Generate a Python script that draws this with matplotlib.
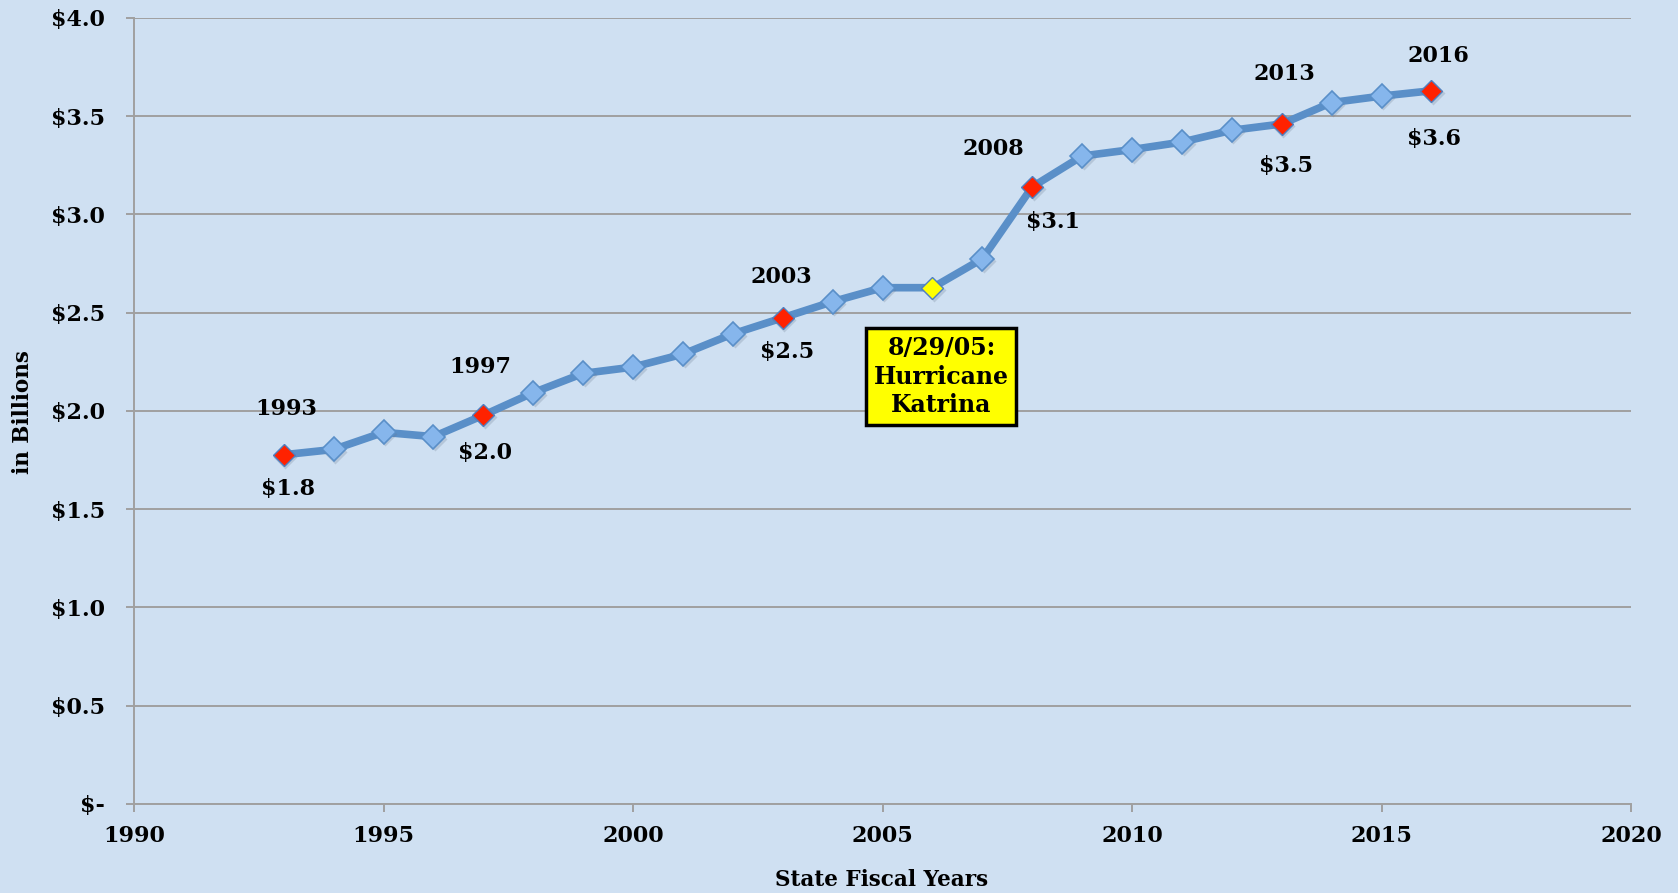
import matplotlib
matplotlib.use("Agg")
import matplotlib.pyplot as plt
import matplotlib.transforms as mtrans
from matplotlib.ticker import FuncFormatter, MultipleLocator

# ---- data ----
years = list(range(1993, 2017))
values = [1.777, 1.804, 1.891, 1.869, 1.978, 2.093, 2.191, 2.223, 2.289, 2.392,
          2.474, 2.556, 2.627, 2.627, 2.774, 3.14, 3.297, 3.330, 3.368, 3.428,
          3.460, 3.569, 3.602, 3.629]
highlight_years = [1993, 1997, 2003, 2008, 2013, 2016]
katrina_year = 2006
katrina_text = "8/29/05:\nHurricane\nKatrina"
x_label = "State Fiscal Years"
y_label = "in Billions"

# label offsets (points)
year_offsets = {1993: (2, 33), 1997: (-2, 35), 2003: (-1, 29), 2008: (-28, 27), 2013: (2, 36), 2016: (5, 25)}
value_offsets = {1993: (3, -25), 1997: (1, -27), 2003: (3, -25), 2008: (15, -25), 2013: (3, -30), 2016: (2, -35)}

bg = "#CFE0F2"
line_c = "#5A8FC8"
font = "DejaVu Serif"
fs = 16

fig = plt.figure(figsize=(16.78, 8.93), dpi=100, facecolor=bg)
ax = fig.add_axes([0.0799, 0.0997, 0.972 - 0.0799, 0.980 - 0.0997])
ax.set_facecolor(bg)

ax.plot(years, values, color=line_c, lw=5.5, zorder=3, solid_joinstyle="round")
shadow_tr = ax.transData + mtrans.ScaledTranslation(1.2/72, -1.5/72, fig.dpi_scale_trans)
ax.plot(years, values, ls="none", marker="D", ms=12.5, color="#6a7a90", alpha=0.25,
        mec="none", transform=shadow_tr, zorder=3.5)
blue_x = [y for y in years if y not in highlight_years and y != katrina_year]
blue_y = [values[years.index(y)] for y in blue_x]
ax.plot(blue_x, blue_y, ls="none", marker="D", ms=12.5, mfc="#86B6EC", mec="#5A8FC8", mew=1.2, zorder=4)
hl_y = [values[years.index(y)] for y in highlight_years]
ax.plot(highlight_years, hl_y, ls="none", marker="D", ms=11.5, mfc="#FF2200", mec="#4F7FC0", mew=1.0, zorder=4)
ax.plot([katrina_year], [values[years.index(katrina_year)]], ls="none", marker="D", ms=11,
        mfc="#FFFF00", mec="#4F7FC0", mew=1.0, zorder=4)

for y in highlight_years:
    v = values[years.index(y)]
    ax.annotate(str(y), (y, v), xytext=year_offsets[y], textcoords="offset points",
                ha="center", va="center", fontsize=fs, fontweight="bold", family=font, zorder=5)
    ax.annotate(f"${v:.1f}", (y, v), xytext=value_offsets[y], textcoords="offset points",
                ha="center", va="center", fontsize=fs, fontweight="bold", family=font, zorder=5)

ax.text(2006.18, 2.175, katrina_text, ha="center", va="center", fontsize=17, fontweight="bold",
        family=font, linespacing=1.25, zorder=6,
        bbox=dict(boxstyle="square,pad=0.32", fc="#FFFF00", ec="black", lw=2.5))

ax.set_xlim(1990, 2020)
ax.set_ylim(0, 4.0)
ax.xaxis.set_major_locator(MultipleLocator(5))
ax.yaxis.set_major_locator(MultipleLocator(0.5))
ax.yaxis.set_major_formatter(FuncFormatter(lambda v, p: "$-" if abs(v) < 1e-9 else f"${v:.1f}"))

ax.grid(axis="y", color="#A0A0A0", lw=1.4, zorder=0)
ax.set_axisbelow(True)
for s in ["top", "right"]:
    ax.spines[s].set_visible(False)
for s in ["left", "bottom"]:
    ax.spines[s].set_color("#A0A0A0")
    ax.spines[s].set_linewidth(1.4)
ax.tick_params(axis="both", colors="#A0A0A0", width=1.4, length=6, labelcolor="black")
ax.tick_params(axis="y", pad=15)
ax.tick_params(axis="x", pad=9)
for lab in ax.get_xticklabels() + ax.get_yticklabels():
    lab.set_fontfamily(font)
    lab.set_fontweight("bold")
    lab.set_fontsize(fs)

fig.text(882/1678, 1 - 880/893, x_label, ha="center", va="center", fontsize=15.5,
         fontweight="bold", family=font)
fig.text(23/1678, 1 - 412/893, y_label, ha="center", va="center", rotation=90,
         fontsize=15.5, fontweight="bold", family=font)

fig.savefig("out.png", dpi=100, facecolor=bg)
